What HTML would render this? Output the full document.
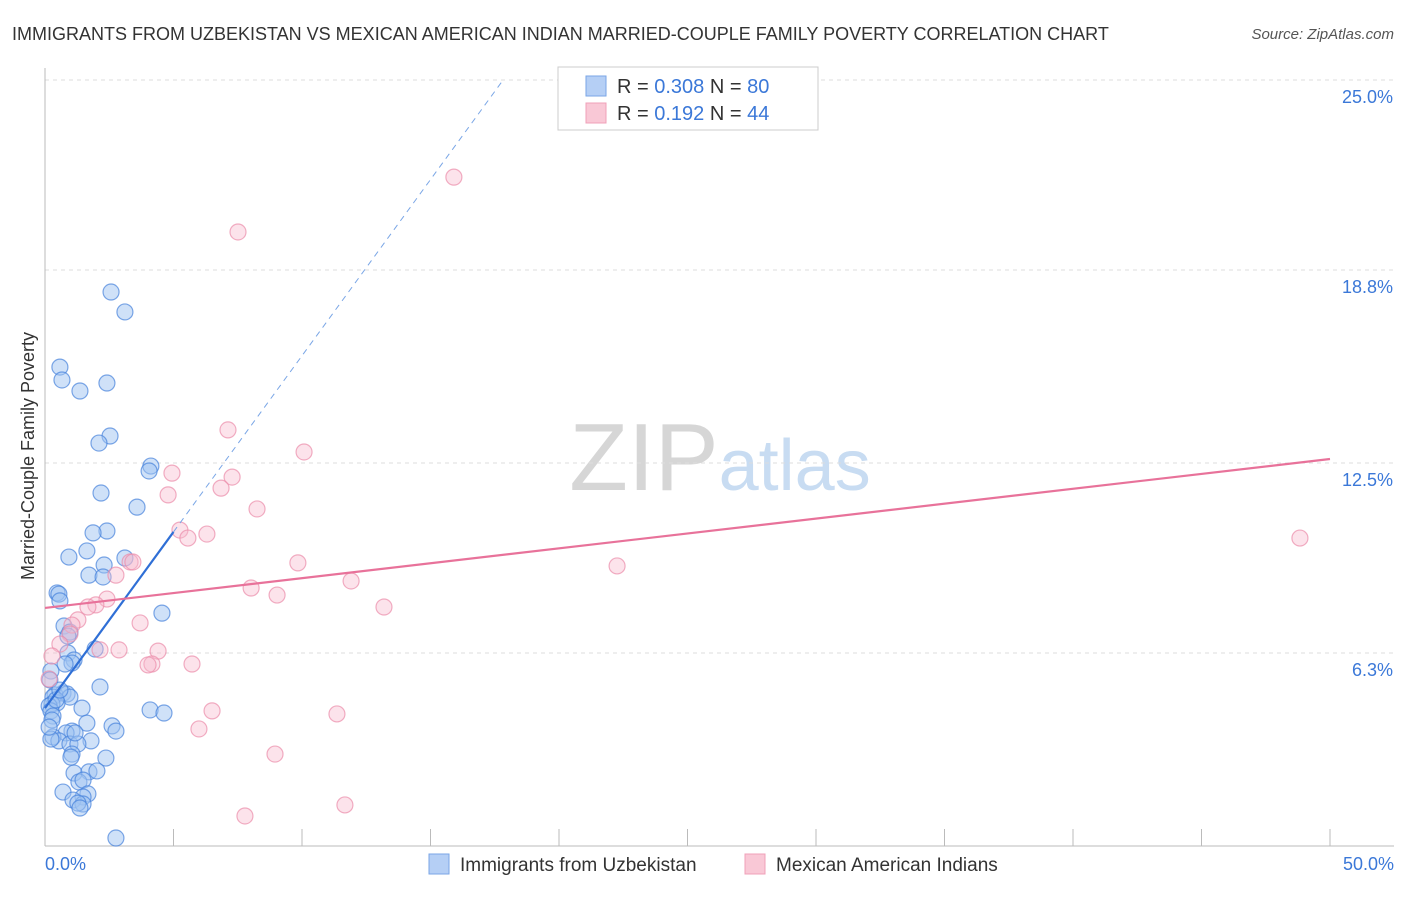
<!DOCTYPE html>
<html><head><meta charset="utf-8"><style>
body{margin:0;background:#fff;font-family:"Liberation Sans",sans-serif;}
svg text{font-family:"Liberation Sans",sans-serif;}
</style></head><body>
<svg id="chart" width="1406" height="892" xmlns="http://www.w3.org/2000/svg">
<text x="12" y="40" font-size="18" fill="#333">IMMIGRANTS FROM UZBEKISTAN VS MEXICAN AMERICAN INDIAN MARRIED-COUPLE FAMILY POVERTY CORRELATION CHART</text>
<text x="1394" y="39" font-size="15" fill="#555" font-style="italic" text-anchor="end">Source: ZipAtlas.com</text>
<text x="720" y="490" font-size="96" fill="#ddd" text-anchor="middle" font-family="Liberation Serif"><tspan fill="#d6d6d6">ZIP</tspan><tspan fill="#c8dcf2" font-family="Liberation Sans" font-size="72">atlas</tspan></text>
<text transform="translate(34,456) rotate(-90)" font-size="18" fill="#333" text-anchor="middle">Married-Couple Family Poverty</text>
<g id="grid"></g><g id="axes"></g><g id="marks"></g>
<g>
<rect x="558" y="67" width="260" height="63" fill="#fff" stroke="#ccc"/>
<rect x="586" y="76" width="20" height="20" fill="#b5cff5" stroke="#7aa6e6"/>
<rect x="586" y="103" width="20" height="20" fill="#f9c8d6" stroke="#f0a0b8"/>
<text x="617" y="93" font-size="20" fill="#333">R = <tspan fill="#3b78d8">0.308</tspan>   N = <tspan fill="#3b78d8">80</tspan></text>
<text x="617" y="120" font-size="20" fill="#333">R =  <tspan fill="#3b78d8">0.192</tspan>   N = <tspan fill="#3b78d8">44</tspan></text>
</g>
<g>
<rect x="429" y="854" width="20" height="20" fill="#b5cff5" stroke="#7aa6e6"/>
<text x="460" y="871" font-size="19" fill="#333">Immigrants from Uzbekistan</text>
<rect x="745" y="854" width="20" height="20" fill="#f9c8d6" stroke="#f0a0b8"/>
<text x="776" y="871" font-size="19" fill="#333">Mexican American Indians</text>
</g>
</svg>
<script>
const yTicks=[25.0,18.8,12.5,6.3];
const yTickLabels=["25.0%","18.8%","12.5%","6.3%"];
const xTicks=[0,5,10,15,20,25,30,35,40,45,50];
const xEndLabels=["0.0%","50.0%"];
const blueX=[2.57,3.11,0.58,0.66,2.41,1.36,2.53,2.10,4.12,4.05,2.18,3.58,2.41,1.87,1.63,0.93,3.11,2.30,1.71,2.26,0.47,0.54,0.58,4.55,0.74,0.97,0.89,1.95,0.89,1.13,1.05,0.78,0.23,0.19,2.14,0.70,0.39,0.86,0.31,0.97,0.47,0.27,0.16,0.23,1.44,0.31,4.09,4.63,0.27,1.63,2.61,2.76,1.05,0.82,0.31,0.54,0.23,1.79,0.97,1.28,1.05,2.37,1.13,1.71,2.02,1.32,1.48,0.70,1.67,1.48,1.09,1.48,1.28,1.36,2.76,0.16,0.43,0.58,1.17,1.01];
const blueY=[18.08,17.43,15.63,15.21,15.11,14.85,13.38,13.15,12.40,12.24,11.52,11.06,10.28,10.22,9.63,9.43,9.40,9.17,8.84,8.78,8.26,8.22,8.00,7.60,7.18,6.98,6.85,6.43,6.30,6.07,5.97,5.94,5.71,5.42,5.19,4.99,4.93,4.96,4.86,4.86,4.67,4.63,4.57,4.41,4.50,4.24,4.44,4.34,4.11,4.01,3.92,3.75,3.75,3.69,3.56,3.43,3.49,3.43,3.33,3.33,3.00,2.87,2.38,2.42,2.45,2.09,2.15,1.76,1.70,1.60,1.50,1.37,1.40,1.24,0.26,3.88,4.77,5.09,3.69,2.90];
const pinkX=[15.91,7.51,7.12,10.08,4.94,7.28,6.85,4.79,8.25,5.25,6.30,5.56,9.84,22.26,3.31,3.42,2.76,11.91,8.02,9.03,2.41,1.98,13.19,1.67,1.28,3.70,1.05,0.97,0.58,0.27,2.88,2.14,4.40,4.16,4.01,5.72,0.16,6.50,11.36,5.99,8.95,7.78,11.67,48.83];
const pinkY=[21.83,20.04,13.58,12.86,12.17,12.04,11.68,11.46,11.00,10.31,10.18,10.05,9.24,9.14,9.27,9.27,8.84,8.65,8.42,8.19,8.06,7.87,7.80,7.80,7.38,7.28,7.21,6.92,6.59,6.20,6.40,6.40,6.36,5.94,5.91,5.94,5.45,4.41,4.31,3.82,3.00,0.98,1.34,10.05];
const blueTrend=[4.5,1.15]; // intercept, slope
const pinkTrend=[7.77,0.0972];
const NS="http://www.w3.org/2000/svg";
const X=v=>45+v*25.7, Y=v=>846-v*30.64;
function mk(tag,attrs,parent){const e=document.createElementNS(NS,tag);for(const k in attrs)e.setAttribute(k,attrs[k]);parent.appendChild(e);return e;}
const grid=document.getElementById('grid'),axes=document.getElementById('axes'),marks=document.getElementById('marks');
yTicks.forEach((t,i)=>{
 const l=mk('line',{x1:45,x2:1394,y1:Y(t),y2:Y(t),stroke:'#ddd','stroke-dasharray':'4,4'},grid);
 
 
 const tx=mk('text',{x:1393,y:Y(t)+23,'font-size':18,fill:'#3b78d8','text-anchor':'end'},axes);
 tx.textContent=yTickLabels[i];
 
 
});
const ya=mk('line',{x1:45,x2:45,y1:68,y2:846,stroke:'#bbb'},axes);


const xa=mk('line',{x1:45,x2:1394,y1:846,y2:846,stroke:'#bbb'},axes);


xTicks.forEach(t=>{
 const l=mk('line',{x1:X(t),x2:X(t),y1:829,y2:846,stroke:'#bbb'},axes);
 
 
});
[[0,'start',45],[50,'end',1394]].forEach((d,i)=>{
 const tx=mk('text',{x:d[2],y:870,'font-size':18,fill:'#3b78d8','text-anchor':d[1]},axes);
 tx.textContent=xEndLabels[i];
 
 
});
blueX.forEach((x,i)=>{
 const c=mk('circle',{cx:X(x),cy:Y(blueY[i]),r:8,fill:'rgba(160,195,242,0.5)',stroke:'rgba(70,130,220,0.7)','stroke-width':1.2},marks);
 
 
});
pinkX.forEach((x,i)=>{
 const c=mk('circle',{cx:X(x),cy:Y(pinkY[i]),r:8,fill:'rgba(248,185,205,0.4)',stroke:'rgba(235,140,170,0.7)','stroke-width':1.2},marks);
 
 
});
const bx1=5, bx2=(25-blueTrend[0])/blueTrend[1];
const bs=mk('line',{x1:X(0),y1:Y(blueTrend[0]),x2:X(bx1),y2:Y(blueTrend[0]+blueTrend[1]*bx1),stroke:'#2f6fd6','stroke-width':2.2},marks);


const bd=mk('line',{x1:X(bx1),y1:Y(blueTrend[0]+blueTrend[1]*bx1),x2:X(bx2),y2:Y(25),stroke:'#7aa6e6','stroke-width':1,'stroke-dasharray':'6,5'},marks);


const pl=mk('line',{x1:X(0),y1:Y(pinkTrend[0]),x2:X(50),y2:Y(pinkTrend[0]+pinkTrend[1]*50),stroke:'#e8729a','stroke-width':2.2},marks);


</script>
</body></html>
